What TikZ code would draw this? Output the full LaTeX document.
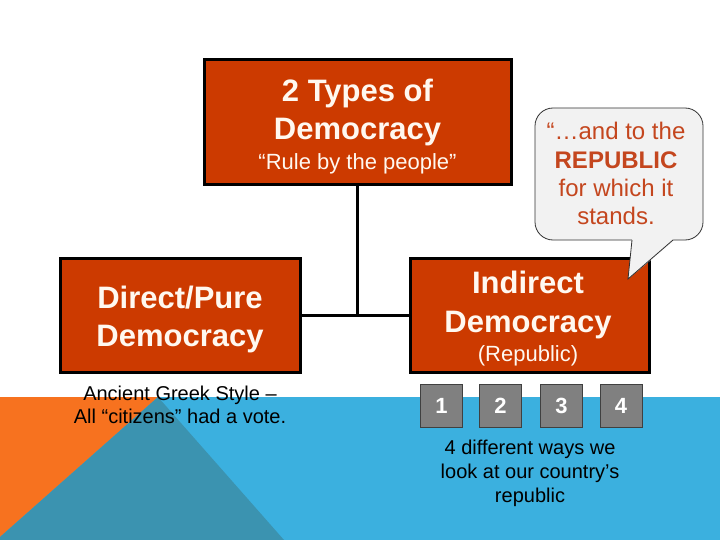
\documentclass[tikz,border=0pt]{standalone}
\usepackage{fontspec}
\setmainfont{Liberation Sans}
\definecolor{boxred}{RGB}{204,58,0}
\definecolor{bgblue}{RGB}{59,176,223}
\definecolor{bgteal}{RGB}{59,147,176}
\definecolor{bgorange}{RGB}{247,114,31}
\definecolor{callfill}{RGB}{242,242,242}
\definecolor{callink}{RGB}{196,70,30}
\definecolor{numgray}{RGB}{128,128,128}
\definecolor{boxtext}{RGB}{255,248,240}
\begin{document}
\begin{tikzpicture}[x=1pt,y=-1pt,
  redbox/.style={draw=black, line width=3pt, fill=boxred, inner sep=0pt},
  link/.style={draw=black, line width=3pt},
  titletext/.style={text=boxtext, font=\fontsize{31}{36}\selectfont\bfseries, anchor=base, inner sep=0pt},
  subtext/.style={text=boxtext, font=\fontsize{22}{26}\selectfont, anchor=base, inner sep=0pt},
  callbox/.style={draw=black!80, line width=0.8pt, fill=callfill, rounded corners=18pt, inner sep=0pt},
  callline/.style={draw=black!80, line width=0.8pt},
  calltext/.style={text=callink, font=\fontsize{24}{28}\selectfont, anchor=base, inner sep=0pt},
  numbox/.style={draw=black!75, line width=0.8pt, fill=numgray, text=white, font=\fontsize{22}{26}\selectfont\bfseries, minimum width=42pt, minimum height=43pt, inner sep=0pt},
  bodytext/.style={text=black, font=\fontsize{20}{24}\selectfont, anchor=base, inner sep=0pt}
]
\useasboundingbox (0,0) rectangle (720,540);
% background
\fill[white] (0,0) rectangle (720,540);
\fill[bgblue] (0,397) rectangle (720,540);
\fill[bgorange] (0,397) -- (158,397) -- (0,537) -- cycle;
\fill[bgteal] (158,397) -- (284,540) -- (0,540) -- (0,537) -- cycle;

% boxes
\node[redbox, minimum width=307pt, minimum height=125pt] (top) at (357.5,122.5) {};
\node[redbox, minimum width=240pt, minimum height=114pt] (direct) at (180,315) {};
\node[redbox, minimum width=239pt, minimum height=114pt] (indirect) at (529.5,315) {};

% connectors
\coordinate (junction) at (top.south |- direct.east);
\draw[link] (top.south) -- (junction);
\draw[link] (direct.east) -- (indirect.west);

% box texts
\node[titletext] (t1) at (357.5,102) {2 Types of};
\node[titletext] (t2) at (357.5,140) {Democracy};
\node[subtext] (t3) at (357.5,170) {“Rule by the people”};
\node[titletext] (d1) at (180,308) {Direct/Pure};
\node[titletext] (d2) at (180,346) {Democracy};
\node[titletext] (i1) at (528,293) {Indirect};
\node[titletext] (i2) at (528,332) {Democracy};
\node[subtext] (i3) at (528,361) {(Republic)};

% callout
\node[callbox, minimum width=168pt, minimum height=132pt] (callout) at (619,174) {};
\coordinate (tip) at (628,279);
\fill[callfill] (632,236) -- (632,241.5) -- (tip) -- (673,241.5) -- (673,236) -- cycle;
\draw[callline] (632,240) -- (tip) -- (673,240);
\node[calltext] (c1) at (616,139.5) {“…and to the};
\node[calltext, font=\fontsize{24}{28}\selectfont\bfseries] (c2) at (616,168.5) {REPUBLIC};
\node[calltext] (c3) at (616,196.5) {for which it};
\node[calltext] (c4) at (616,224.5) {stands.};

% number boxes
\node[numbox] (n1) at (441.5,405.5) {1};
\node[numbox] (n2) at (500.5,405.5) {2};
\node[numbox] (n3) at (561.5,405.5) {3};
\node[numbox] (n4) at (621,405.5) {4};

% bottom texts
\node[bodytext] (g1) at (180,400) {Ancient Greek Style –};
\node[bodytext] (g2) at (180,423) {All “citizens” had a vote.};
\node[bodytext] (w1) at (530,454) {4 different ways we};
\node[bodytext] (w2) at (530,478) {look at our country’s};
\node[bodytext] (w3) at (530,502) {republic};
\end{tikzpicture}
\end{document}
